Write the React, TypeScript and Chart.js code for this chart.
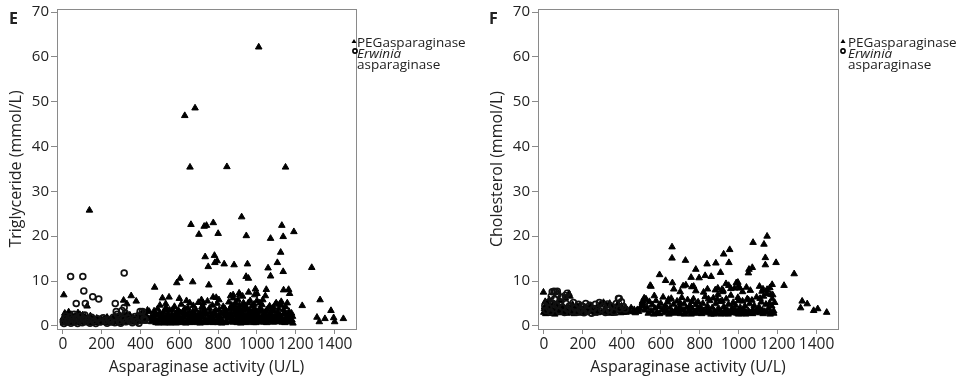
import React, { useEffect, useRef } from "react";
import { Chart, registerables } from "chart.js";
Chart.register(...registerables);

// ---------- data ----------
const X_TICKS = [0, 200, 400, 600, 800, 1000, 1200, 1400];
const Y_TICKS = [0, 10, 20, 30, 40, 50, 60, 70];
const X_MIN = -30;
const X_MAX = 1510;
const Y_MIN = -0.7;
const Y_MAX = 70.7;

const X_TITLE = "Asparaginase activity (U/L)";
const Y_TITLE_E = "Triglyceride (mmol/L)";
const Y_TITLE_F = "Cholesterol (mmol/L)";
const SERIES_PEG = "PEGasparaginase";
const SERIES_ERW_ITALIC = "Erwinia";
const SERIES_ERW_REST = "asparaginase";

// Panel E: triglyceride, PEGasparaginase [activity, mmol/L]
const PEG_TG: [number, number][] = [
  [137, 25.8], [628, 46.9], [681, 48.6], [1009, 62.2], [655, 35.4], [845, 35.5], [1147, 35.4],
  [921, 24.3], [660, 22.6], [728, 22.2], [740, 22.4], [775, 23.0], [701, 20.4], [800, 20.6],
  [945, 20.1], [1128, 22.4], [1070, 19.5], [1135, 19.9], [1190, 21.0], [1122, 16.4], [733, 15.4],
  [781, 15.7], [749, 13.2], [783, 14.1], [795, 14.5], [831, 13.8], [882, 13.6], [951, 13.8],
  [944, 11.0], [956, 10.6], [1057, 12.9], [1105, 14.1], [1135, 12.1], [1070, 11.1], [1282, 13.0],
  [604, 10.6], [587, 9.6], [669, 9.8], [860, 9.7], [752, 9.1], [473, 8.6], [992, 8.2], [1048, 8.1],
  [1137, 8.0], [1163, 8.1], [1168, 7.2], [1233, 4.5], [1325, 5.8], [1381, 3.4], [1445, 1.6],
  [1309, 1.9], [1321, 0.9], [1350, 1.6], [1395, 1.8], [1400, 0.9], [5, 6.9], [352, 6.7],
  [313, 5.7], [330, 4.9], [378, 5.5], [436, 3.5], [513, 6.2], [547, 6.4], [530, 4.9], [600, 6.1],
  [637, 5.6], [654, 5.1], [714, 5.8], [790, 6.3], [804, 5.8], [864, 6.7], [913, 6.9], [930, 5.1],
  [1043, 6.7], [1000, 7.2], [1116, 4.8], [1147, 4.3], [125, 4.4], [774, 6.4], [723, 5.1],
  [877, 6.9], [908, 7.3], [957, 7.5], [988, 6.9], [1099, 5.1], [1125, 5.4], [1065, 4.4], [1014, 5.1],
  [3, 0.6], [5, 1.2], [8, 2.0], [10, 2.8], [14, 1.5], [18, 0.8], [22, 2.3], [25, 1.1], [30, 3.1],
  [34, 1.8], [38, 0.7], [44, 2.5], [48, 1.3], [55, 0.9], [60, 2.1], [66, 1.6], [72, 0.6], [78, 2.9],
  [84, 1.2], [90, 1.9], [96, 0.8], [102, 2.4], [110, 1.4], [118, 0.7], [128, 1.8], [135, 1.0],
  [142, 2.2], [150, 0.6], [158, 1.5], [166, 0.9], [175, 1.7], [184, 0.6], [192, 1.2], [205, 0.8],
  [214, 1.6], [222, 0.7], [232, 1.3], [240, 0.9], [250, 0.6], [258, 1.4], [266, 2.2], [275, 0.8],
  [284, 1.5], [292, 0.6], [300, 2.0], [310, 1.1], [320, 0.7], [330, 2.6], [340, 1.6], [350, 0.9],
  [362, 1.9], [372, 1.2], [385, 2.4], [395, 1.5], [405, 2.7], [418, 3.0], [430, 2.2], [445, 3.2],
  [458, 0.9], [465, 1.8], [472, 2.6], [480, 0.7], [488, 3.8], [495, 1.4], [500, 4.6], [505, 2.3],
  [512, 0.8], [518, 3.1], [525, 1.6], [532, 4.1], [538, 2.0], [545, 0.7], [550, 3.5], [556, 1.3],
  [562, 2.6], [568, 0.9], [575, 4.3], [580, 1.8], [586, 3.0], [592, 0.8], [598, 2.2], [604, 1.5],
  [610, 4.8], [615, 0.7], [620, 3.3], [626, 1.9], [632, 2.7], [638, 0.9], [644, 4.0], [648, 1.4],
  [652, 3.1], [658, 2.2], [662, 0.8], [668, 1.7], [672, 4.5], [676, 2.9], [680, 1.1], [685, 3.6],
  [690, 0.7], [694, 2.3], [698, 5.2], [703, 1.5], [708, 3.0], [712, 0.9], [716, 4.2], [720, 2.0],
  [725, 1.2], [730, 3.4], [735, 0.7], [740, 2.6], [745, 5.5], [750, 1.6], [755, 3.9], [760, 0.9],
  [765, 2.3], [770, 4.6], [775, 1.3], [780, 3.1], [785, 0.8], [790, 2.0], [795, 5.0], [800, 1.5],
  [805, 3.6], [810, 0.9], [815, 2.7], [820, 1.2], [826, 4.3], [832, 2.1], [838, 0.7], [844, 3.2],
  [850, 1.7], [855, 5.3], [860, 2.5], [865, 0.9], [870, 3.8], [874, 1.4], [878, 6.2], [882, 2.9],
  [886, 4.6], [890, 1.1], [894, 3.4], [898, 0.7], [902, 5.8], [906, 2.2], [910, 4.1], [914, 1.5],
  [918, 3.0], [922, 0.8], [926, 6.6], [930, 2.6], [934, 4.8], [938, 1.3], [942, 3.6], [946, 0.7],
  [950, 2.1], [955, 5.1], [960, 1.6], [965, 3.3], [970, 0.9], [975, 4.4], [980, 2.3], [985, 1.2],
  [990, 3.7], [995, 0.7], [1000, 5.6], [1005, 2.0], [1010, 1.4], [1015, 3.9], [1020, 0.9],
  [1026, 4.7], [1032, 2.4], [1038, 1.1], [1044, 3.2], [1050, 0.7], [1055, 1.8], [1060, 4.0],
  [1066, 2.6], [1072, 1.0], [1078, 3.4], [1084, 0.8], [1090, 2.1], [1096, 4.9], [1102, 1.5],
  [1108, 3.0], [1114, 0.9], [1120, 2.3], [1126, 4.6], [1132, 1.2], [1138, 3.6], [1144, 0.7],
  [1150, 2.0], [1156, 5.1], [1160, 1.5], [1165, 3.2], [1170, 0.9], [1175, 2.4], [1180, 1.3],
  [1185, 0.6], [603, 1.0], [617, 2.1], [633, 0.6], [647, 1.5], [663, 2.6], [679, 0.9], [693, 1.9],
  [707, 0.6], [722, 2.8], [737, 1.4], [752, 0.8], [768, 1.9], [783, 2.6], [798, 0.7], [813, 1.6],
  [828, 2.9], [843, 1.0], [858, 1.8], [868, 2.7], [877, 0.8], [887, 3.1], [896, 1.7], [904, 0.9],
  [912, 2.8], [920, 1.9], [928, 3.5], [936, 0.8], [944, 2.4], [952, 1.2], [962, 3.0], [972, 1.8],
  [982, 0.7], [992, 2.6], [1002, 1.0], [1012, 3.1], [1022, 1.8], [1034, 0.8], [1046, 2.3],
  [1058, 1.2], [1070, 2.9], [1082, 1.7], [1094, 0.9], [1106, 2.5], [1118, 1.6], [1130, 0.8],
  [1142, 2.8], [1154, 1.0], [1166, 2.0], [1178, 2.8], [870, 4.6], [890, 5.2], [910, 4.6], [940, 4.4],
  [965, 5.6], [1030, 5.8], [1085, 4.2], [985, 4.8],
  [455, 2.0], [462, 1.2], [470, 3.3], [477, 1.6], [484, 2.4], [491, 0.6], [498, 2.9], [508, 1.7],
  [515, 2.5], [522, 0.6], [528, 3.6], [535, 1.1], [541, 2.8], [548, 1.7], [553, 0.6], [559, 2.0],
  [565, 3.6], [571, 1.3], [577, 2.4], [583, 0.6], [589, 1.9], [595, 3.5], [607, 2.9], [612, 1.2],
  [623, 0.9], [629, 3.8], [641, 2.4], [655, 0.7], [670, 3.2], [683, 2.3], [697, 1.2], [710, 2.1],
  [727, 3.9], [743, 1.0], [758, 3.0], [773, 0.7], [788, 3.5], [803, 2.3], [818, 0.6], [835, 3.8],
  [848, 2.6], [862, 3.9], [872, 1.9], [881, 4.0], [893, 2.4], [900, 1.3], [908, 3.7], [916, 0.6],
  [924, 2.2], [932, 1.6], [948, 3.9], [958, 2.6], [968, 1.2], [978, 3.3], [988, 1.6], [998, 3.1],
  [1008, 2.3], [1018, 1.2], [1028, 3.3], [1040, 1.5], [1052, 3.6], [1064, 1.7], [1076, 2.2],
  [1088, 3.3], [1100, 1.1], [1112, 3.8], [1124, 1.9], [1136, 2.6], [1148, 1.3], [1162, 2.3],
  [1172, 1.5], [1183, 2.1], [2, 1.8], [12, 0.9], [20, 1.6], [28, 2.1], [36, 1.2], [52, 1.9],
  [62, 1.1], [80, 0.9], [88, 2.5], [106, 1.0], [115, 2.0], [145, 1.2], [170, 1.3], [198, 1.6],
  [228, 1.9], [246, 1.5], [270, 1.2], [288, 2.1], [305, 1.4], [316, 2.3], [345, 2.4], [368, 0.8],
  [390, 0.9], [412, 1.7], [425, 1.0], [440, 1.6],
];

// Panel E: triglyceride, Erwinia asparaginase
const ERW_TG: [number, number][] = [
  [40, 11.0], [103, 11.0], [316, 11.8], [108, 7.8], [154, 6.5], [185, 6.0], [69, 5.0], [116, 5.0],
  [270, 5.0], [316, 4.1], [275, 3.2], [410, 3.2], [398, 3.2], [287, 2.1], [322, 2.8], [373, 2.1],
  [424, 1.3], [419, 1.6], [2, 1.0], [6, 0.5], [12, 1.6], [16, 2.2], [20, 0.8], [28, 1.3], [35, 2.0],
  [42, 0.6], [50, 1.5], [58, 2.6], [64, 0.9], [70, 1.8], [76, 0.5], [85, 1.3], [92, 2.2], [100, 0.7],
  [106, 1.6], [113, 2.4], [120, 0.9], [132, 1.4], [140, 0.6], [148, 1.9], [160, 1.1], [170, 0.5],
  [180, 1.6], [195, 0.9], [208, 1.8], [218, 1.2], [228, 0.6], [238, 1.4], [248, 0.9], [260, 1.9],
  [268, 0.7], [280, 2.6], [290, 1.1], [298, 0.6], [305, 3.4], [312, 1.5], [325, 0.9], [335, 1.8],
  [345, 1.2], [358, 0.7], [368, 1.5], [380, 1.0], [392, 0.6],
];

// Panel F: cholesterol, PEGasparaginase
const PEG_CHOL: [number, number][] = [
  [658, 17.6], [658, 15.1], [727, 14.6], [954, 17.0], [923, 16.0], [950, 14.1], [1074, 18.6],
  [1146, 20.0], [1130, 18.2], [1137, 15.2], [1137, 13.6], [1192, 14.1], [1285, 11.6], [1233, 9.0],
  [1053, 12.6], [1070, 13.0], [1050, 11.8], [838, 13.8], [883, 14.0], [907, 11.9], [780, 12.6],
  [797, 10.7], [756, 10.8], [828, 11.2], [859, 11.0], [729, 9.1], [715, 8.9], [594, 11.4],
  [625, 10.1], [660, 9.6], [546, 9.0], [567, 6.7], [515, 6.2], [667, 8.2], [935, 9.4], [949, 9.0],
  [988, 9.6], [1000, 8.9], [1107, 8.8], [1172, 9.2], [1125, 8.2], [1326, 5.5], [1352, 4.9],
  [1318, 4.0], [1385, 3.4], [1406, 3.8], [1452, 3.0], [-2, 7.5], [129, 7.2], [134, 6.6],
  [769, 8.8], [893, 8.4], [914, 8.1], [996, 9.7], [979, 8.4], [1005, 8.4], [1120, 7.7], [1146, 8.1],
  [1165, 7.0], [1172, 6.0], [464, 3.6], [481, 3.6], [507, 5.5], [524, 5.8], [550, 8.8],
  [880, 8.0], [960, 8.3], [1040, 8.6], [1060, 7.9], [820, 7.5], [780, 7.8], [700, 7.6], [760, 8.7],
  [840, 8.2], [920, 7.9], [1020, 7.6], [1160, 8.5],
  [0, 3.0], [4, 4.2], [7, 5.4], [10, 2.7], [14, 3.6], [18, 4.8], [22, 3.2], [28, 5.8], [32, 2.8],
  [38, 4.0], [44, 3.4], [50, 5.0], [56, 2.6], [62, 3.8], [68, 4.6], [75, 3.1], [82, 5.6], [88, 2.9],
  [95, 4.3], [102, 3.5], [110, 6.2], [118, 2.8], [126, 4.1], [140, 3.3], [148, 4.7], [156, 2.7],
  [165, 3.9], [174, 3.0], [182, 4.4], [192, 2.8], [200, 3.6], [210, 4.2], [220, 2.9], [230, 3.7],
  [240, 4.5], [250, 3.2], [262, 2.8], [270, 4.0], [280, 3.4], [290, 4.8], [298, 3.0], [306, 5.2],
  [315, 3.8], [322, 4.6], [330, 2.9], [338, 5.0], [346, 3.5], [355, 4.3], [362, 2.8], [372, 3.9],
  [380, 4.9], [390, 3.3], [398, 4.4], [408, 3.0], [418, 4.1], [428, 3.6], [440, 3.2], [448, 4.0],
  [462, 3.1], [470, 2.9], [478, 3.4], [486, 3.2], [494, 3.8], [500, 4.4], [506, 5.2], [512, 4.6],
  [518, 3.5], [524, 6.0], [530, 4.1], [536, 2.8], [542, 5.4], [550, 3.3], [556, 4.7], [564, 2.6],
  [570, 3.9], [576, 5.6], [582, 3.0], [588, 4.3], [594, 2.7], [600, 5.0], [606, 3.6], [612, 6.4],
  [618, 2.9], [624, 4.5], [630, 3.3], [636, 5.3], [642, 2.6], [648, 4.0], [654, 6.1], [660, 3.1],
  [666, 4.8], [672, 2.8], [678, 3.7], [684, 5.5], [690, 3.0], [696, 4.3], [702, 2.7], [708, 6.3],
  [714, 3.5], [720, 4.9], [726, 2.9], [732, 4.0], [738, 5.8], [744, 3.2], [750, 4.5], [756, 2.6],
  [762, 3.8], [768, 6.0], [774, 3.1], [780, 4.7], [786, 2.8], [792, 5.3], [798, 3.6], [804, 4.2],
  [810, 2.7], [816, 5.0], [822, 3.4], [828, 6.5], [834, 2.9], [840, 4.4], [846, 3.2], [852, 5.6],
  [858, 2.6], [864, 4.0], [870, 6.2], [876, 3.3], [882, 4.9], [888, 2.8], [894, 7.0], [900, 3.7],
  [906, 5.4], [912, 3.0], [918, 7.6], [924, 4.3], [930, 2.7], [936, 6.0], [942, 3.5], [948, 4.8],
  [954, 2.9], [960, 6.8], [966, 3.9], [972, 5.2], [978, 3.1], [984, 4.6], [990, 2.8], [996, 6.3],
  [1002, 3.4], [1008, 4.1], [1014, 2.7], [1020, 5.5], [1026, 3.6], [1032, 4.4], [1038, 3.0],
  [1044, 6.0], [1050, 3.3], [1056, 4.9], [1062, 2.8], [1068, 5.7], [1074, 3.7], [1080, 4.5],
  [1086, 3.0], [1092, 6.4], [1098, 3.4], [1104, 4.2], [1110, 2.9], [1116, 5.3], [1122, 3.5],
  [1128, 6.6], [1134, 3.2], [1140, 4.8], [1146, 7.2], [1152, 3.8], [1158, 5.0], [1164, 3.1],
  [1170, 4.4], [1175, 6.9], [1180, 3.3], [1185, 5.2],
  [3, 3.8], [16, 2.8], [26, 4.4], [42, 2.8], [60, 3.2], [78, 4.2], [92, 3.6], [115, 3.4], [132, 2.9],
  [152, 3.6], [170, 4.4], [188, 3.3], [215, 3.4], [245, 3.6], [275, 2.9], [310, 3.4], [342, 2.8],
  [368, 3.4], [395, 2.9], [422, 3.0], [580, 2.8], [620, 3.6], [650, 2.9], [675, 3.3], [700, 3.6],
  [722, 2.6], [747, 3.5], [772, 2.9], [790, 3.9], [812, 3.3], [836, 3.6], [855, 3.0], [874, 2.6],
  [892, 3.6], [910, 2.6], [928, 3.4], [946, 2.6], [963, 3.0], [982, 3.6], [1000, 2.6], [1018, 3.2],
  [1036, 2.6], [1054, 3.0], [1072, 2.7], [1090, 3.3], [1108, 3.7], [1126, 2.7], [1144, 3.0],
  [1162, 2.6], [1180, 2.8], [890, 5.9], [915, 5.6], [845, 6.0], [1000, 5.6], [1050, 5.8], [1110, 6.1],
  [760, 5.4], [700, 5.1], [640, 5.9],
];

// Panel F: cholesterol, Erwinia asparaginase
const ERW_CHOL: [number, number][] = [
  [43, 7.6], [60, 7.6], [52, 7.7], [69, 7.7], [38, 6.6], [72, 7.0], [55, 6.0], [90, 6.4], [110, 6.8],
  [120, 7.3], [383, 6.1], [387, 6.1], [5, 4.5], [12, 3.4], [20, 5.2], [26, 4.0], [34, 3.1], [46, 5.0],
  [52, 3.8], [64, 4.6], [78, 3.3], [85, 5.4], [98, 4.1], [106, 3.0], [115, 5.0], [122, 3.7],
  [132, 4.5], [145, 3.2], [152, 5.2], [160, 4.0], [170, 3.1], [178, 4.8], [188, 3.6], [198, 4.4],
  [206, 2.9], [215, 5.0], [225, 3.4], [235, 4.6], [245, 2.8], [255, 3.9], [265, 4.8], [275, 3.2],
  [285, 5.2], [296, 3.7], [305, 4.3], [316, 3.0], [326, 4.9], [336, 3.6], [348, 4.4], [360, 3.1],
  [372, 5.0], [388, 3.8], [398, 5.4], [408, 4.3], [418, 3.7],
];

// ---------- styling ----------
const FONT = "'Open Sans', 'DejaVu Sans', sans-serif";
const TEXT = "#222222";
const FRAME = "#8a8a8a";

type PanelCfg = {
  letter: string;
  yTitle: string;
  peg: [number, number][];
  erw: [number, number][];
  width: number;
  axisWidth: number;
  padRight: number;
  yTitlePad: number;
  legendTriX: number;
  legendCircX: number;
  legendTextX: number;
};

const toPoints = (arr: [number, number][]) => arr.map(([x, y]) => ({ x, y }));

function buildChart(canvas: HTMLCanvasElement, p: PanelCfg) {
  const decorPlugin = {
    id: "decor-" + p.letter,
    afterDatasetsDraw(chart: any) {
      const { ctx, chartArea } = chart;
      ctx.save();
      ctx.strokeStyle = FRAME;
      ctx.lineWidth = 1;
      ctx.strokeRect(
        Math.round(chartArea.left) + 0.5,
        Math.round(chartArea.top) + 0.5,
        Math.round(chartArea.right - chartArea.left),
        Math.round(chartArea.bottom - chartArea.top)
      );
      ctx.restore();
    },
    afterDraw(chart: any) {
      const ctx = chart.ctx;
      ctx.save();
      ctx.fillStyle = TEXT;
      ctx.textAlign = "left";
      ctx.textBaseline = "middle";
      ctx.font = `bold 16px ${FONT}`;
      ctx.fillText(p.letter, 9, 19);
      // legend triangle
      ctx.fillStyle = "#000";
      const tx = p.legendTriX, ty = 41.5, r = 2.6;
      ctx.beginPath();
      ctx.moveTo(tx, ty - r);
      ctx.lineTo(tx + r * 0.95, ty + r * 0.6);
      ctx.lineTo(tx - r * 0.95, ty + r * 0.6);
      ctx.closePath();
      ctx.fill();
      // legend circle
      ctx.strokeStyle = "#000";
      ctx.lineWidth = 1.6;
      ctx.beginPath();
      ctx.arc(p.legendCircX, 51, 2.1, 0, Math.PI * 2);
      ctx.stroke();
      ctx.fillStyle = TEXT;
      ctx.font = `13.5px ${FONT}`;
      ctx.fillText(SERIES_PEG, p.legendTextX, 43);
      ctx.font = `italic 13.5px ${FONT}`;
      ctx.fillText(SERIES_ERW_ITALIC, p.legendTextX, 54);
      ctx.font = `13.5px ${FONT}`;
      ctx.fillText(SERIES_ERW_REST, p.legendTextX, 65);
      ctx.restore();
    },
  };

  return new Chart(canvas, {
    type: "scatter",
    data: {
      datasets: [
        {
          label: SERIES_ERW_ITALIC + " " + SERIES_ERW_REST,
          data: toPoints(p.erw),
          pointStyle: "circle",
          pointRadius: 2.9,
          borderWidth: 1.7,
          borderColor: "#111",
          backgroundColor: "rgba(0,0,0,0)",
          order: 0,
        },
        {
          label: SERIES_PEG,
          data: toPoints(p.peg),
          pointStyle: "triangle",
          pointRadius: 3.8,
          borderWidth: 1,
          borderColor: "#000",
          backgroundColor: "#000",
          order: 1,
        },
      ],
    },
    options: {
      responsive: false,
      animation: false,
      events: [],
      layout: { padding: { left: 0, top: 9, right: p.padRight, bottom: 0 } },
      plugins: {
        legend: { display: false },
        tooltip: { enabled: false },
        title: { display: false },
      },
      scales: {
        x: {
          type: "linear",
          min: X_MIN,
          max: X_MAX,
          afterBuildTicks: (s: any) => {
            s.ticks = X_TICKS.map((v) => ({ value: v }));
          },
          afterFit: (s: any) => {
            s.height = 50;
            s.paddingLeft = 0;
            s.paddingRight = 0;
          },
          grid: { drawOnChartArea: false, drawTicks: true, tickLength: 5, color: FRAME, lineWidth: 1 },
          border: { display: false },
          ticks: {
            autoSkip: false,
            maxRotation: 0,
            minRotation: 0,
            padding: 1,
            color: TEXT,
            font: { family: FONT, size: 15.5 },
            callback: (v: any) => String(v),
          },
          title: {
            display: true,
            text: X_TITLE,
            color: TEXT,
            font: { family: FONT, size: 16 },
            padding: { top: 0, bottom: 2.4 },
          },
        },
        y: {
          type: "linear",
          min: Y_MIN,
          max: Y_MAX,
          afterBuildTicks: (s: any) => {
            s.ticks = Y_TICKS.map((v) => ({ value: v }));
          },
          afterFit: (s: any) => {
            s.width = p.axisWidth;
            s.paddingTop = 0;
            s.paddingBottom = 0;
          },
          grid: { drawOnChartArea: false, drawTicks: true, tickLength: 6, color: FRAME, lineWidth: 1 },
          border: { display: false },
          ticks: {
            padding: 2,
            color: TEXT,
            font: { family: FONT, size: 15 },
            callback: (v: any) => String(v),
          },
          title: {
            display: true,
            text: p.yTitle,
            color: TEXT,
            font: { family: FONT, size: 16 },
            padding: { top: p.yTitlePad, bottom: 0 },
          },
        },
      },
    },
    plugins: [decorPlugin],
  } as any);
}

const PANEL_E: PanelCfg = {
  letter: "E",
  yTitle: Y_TITLE_E,
  peg: PEG_TG,
  erw: ERW_TG,
  width: 480,
  axisWidth: 57,
  padRight: 124,
  yTitlePad: 6.5,
  legendTriX: 354,
  legendCircX: 355,
  legendTextX: 357,
};

const PANEL_F: PanelCfg = {
  letter: "F",
  yTitle: Y_TITLE_F,
  peg: PEG_CHOL,
  erw: ERW_CHOL,
  width: 485,
  axisWidth: 58,
  padRight: 127,
  yTitlePad: 8,
  legendTriX: 363,
  legendCircX: 363,
  legendTextX: 368,
};

function Panel({ cfg, left }: { cfg: PanelCfg; left: number }) {
  const ref = useRef<HTMLCanvasElement | null>(null);
  useEffect(() => {
    if (!ref.current) return;
    const chart = buildChart(ref.current, cfg);
    return () => chart.destroy();
  }, [cfg]);
  return (
    <canvas
      ref={ref}
      width={cfg.width}
      height={379}
      style={{ position: "absolute", left, top: 0, width: cfg.width, height: 379, display: "block" }}
    />
  );
}

export default function App() {
  return (
    <div style={{ position: "absolute", left: 0, top: 0, width: 965, height: 379, background: "#fff" }}>
      <Panel cfg={PANEL_E} left={0} />
      <Panel cfg={PANEL_F} left={480} />
    </div>
  );
}
